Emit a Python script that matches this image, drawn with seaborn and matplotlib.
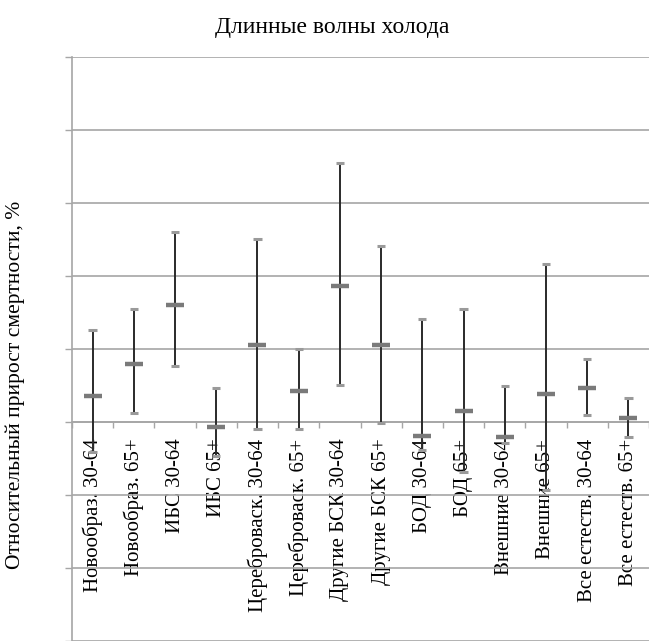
import numpy as np
import pandas as pd
import matplotlib
matplotlib.use("Agg")
import matplotlib.pyplot as plt
import seaborn as sns

# Relative excess mortality during long cold waves, %
categories = [
    "Новообраз. 30-64", "Новообраз. 65+", "ИБС 30-64", "ИБС 65+",
    "Цереброваск. 30-64", "Цереброваск. 65+", "Другие БСК 30-64",
    "Другие БСК 65+", "БОД 30-64", "БОД 65+", "Внешние 30-64",
    "Внешние 65+", "Все естеств. 30-64", "Все естеств. 65+",
]
estimate = [3.5, 8.0, 16.0, -0.7, 10.5, 4.2, 18.6, 10.5, -1.9, 1.5, -2.0, 3.8, 4.6, 0.5]
ci_low = [-4.1, 1.2, 7.7, -4.6, -1.0, -1.0, 5.1, -0.2, -3.8, -6.8, -2.9, -9.3, 1.0, -2.1]
ci_high = [12.6, 15.5, 26.0, 4.7, 25.1, 10.0, 35.5, 24.1, 14.1, 15.5, 4.9, 21.6, 8.6, 3.3]

y_min, y_max, y_step = -30, 50, 10

df = pd.DataFrame({"group": categories, "est": estimate, "lo": ci_low, "hi": ci_high})

sns.set_theme(style="white")
plt.rcParams["font.family"] = ["Liberation Serif", "DejaVu Serif"]
plt.rcParams["text.color"] = "black"
plt.rcParams["xtick.color"] = "black"

fig = plt.figure(figsize=(6.49, 6.41), dpi=100)
ax = fig.add_axes([72 / 649, 0.0, 1 - 72 / 649, 1 - 57 / 641])

grid_c = "#a6a6a6"
pos = np.arange(len(categories))

# confidence intervals
ax.vlines(pos, df["lo"], df["hi"], color="#2a2a2a", lw=1.4, zorder=3)
ax.hlines(df["hi"], pos - 0.1, pos + 0.1, color="#9a9a9a", lw=2.2, zorder=4)
ax.hlines(df["lo"], pos - 0.1, pos + 0.1, color="#9a9a9a", lw=2.2, zorder=4)

# point estimates
sns.scatterplot(data=df, x="group", y="est", marker="_", s=150, linewidth=3.2,
                color="#7a7a7a", ax=ax, zorder=5, legend=False)

ax.set_xlim(-0.5, len(categories) - 0.5)
ax.set_ylim(y_min, y_max)
ax.set_yticks(np.arange(y_min, y_max + 1, y_step))
ax.yaxis.grid(True, color=grid_c, lw=1.2)
ax.set_axisbelow(True)
ax.tick_params(axis="y", which="major", length=5, width=1, color=grid_c,
               labelleft=False, left=True)

for s in ["top", "right"]:
    ax.spines[s].set_visible(False)
ax.spines["left"].set_color(grid_c)
ax.spines["left"].set_linewidth(1.2)
ax.spines["bottom"].set_position(("data", 0))
ax.spines["bottom"].set_color(grid_c)
ax.spines["bottom"].set_linewidth(1.2)

# category boundaries as ticks, labels at centres
ax.set_xticks(np.arange(-0.5, len(categories), 1.0))
ax.set_xticklabels([])
ax.tick_params(axis="x", which="major", length=4, width=1, color=grid_c,
               direction="out", bottom=True)
ax.set_xticks(pos, minor=True)
ax.set_xticklabels(categories, minor=True, rotation=90, fontsize=15,
                   va="top", ha="center", color="black")
ax.tick_params(axis="x", which="minor", length=0, pad=12, bottom=True)
ax.set_xlabel("")
ax.set_ylabel("")

fig.text(332 / 649, 1 - 27 / 641, "Длинные волны холода", ha="center",
         va="center", fontsize=17, color="black")
fig.text(15 / 649, 1 - 385 / 641, "Относительный прирост смертности, %",
         rotation=90, ha="center", va="center", fontsize=15.5, color="black")

fig.savefig("out.png", dpi=100, facecolor="white")
